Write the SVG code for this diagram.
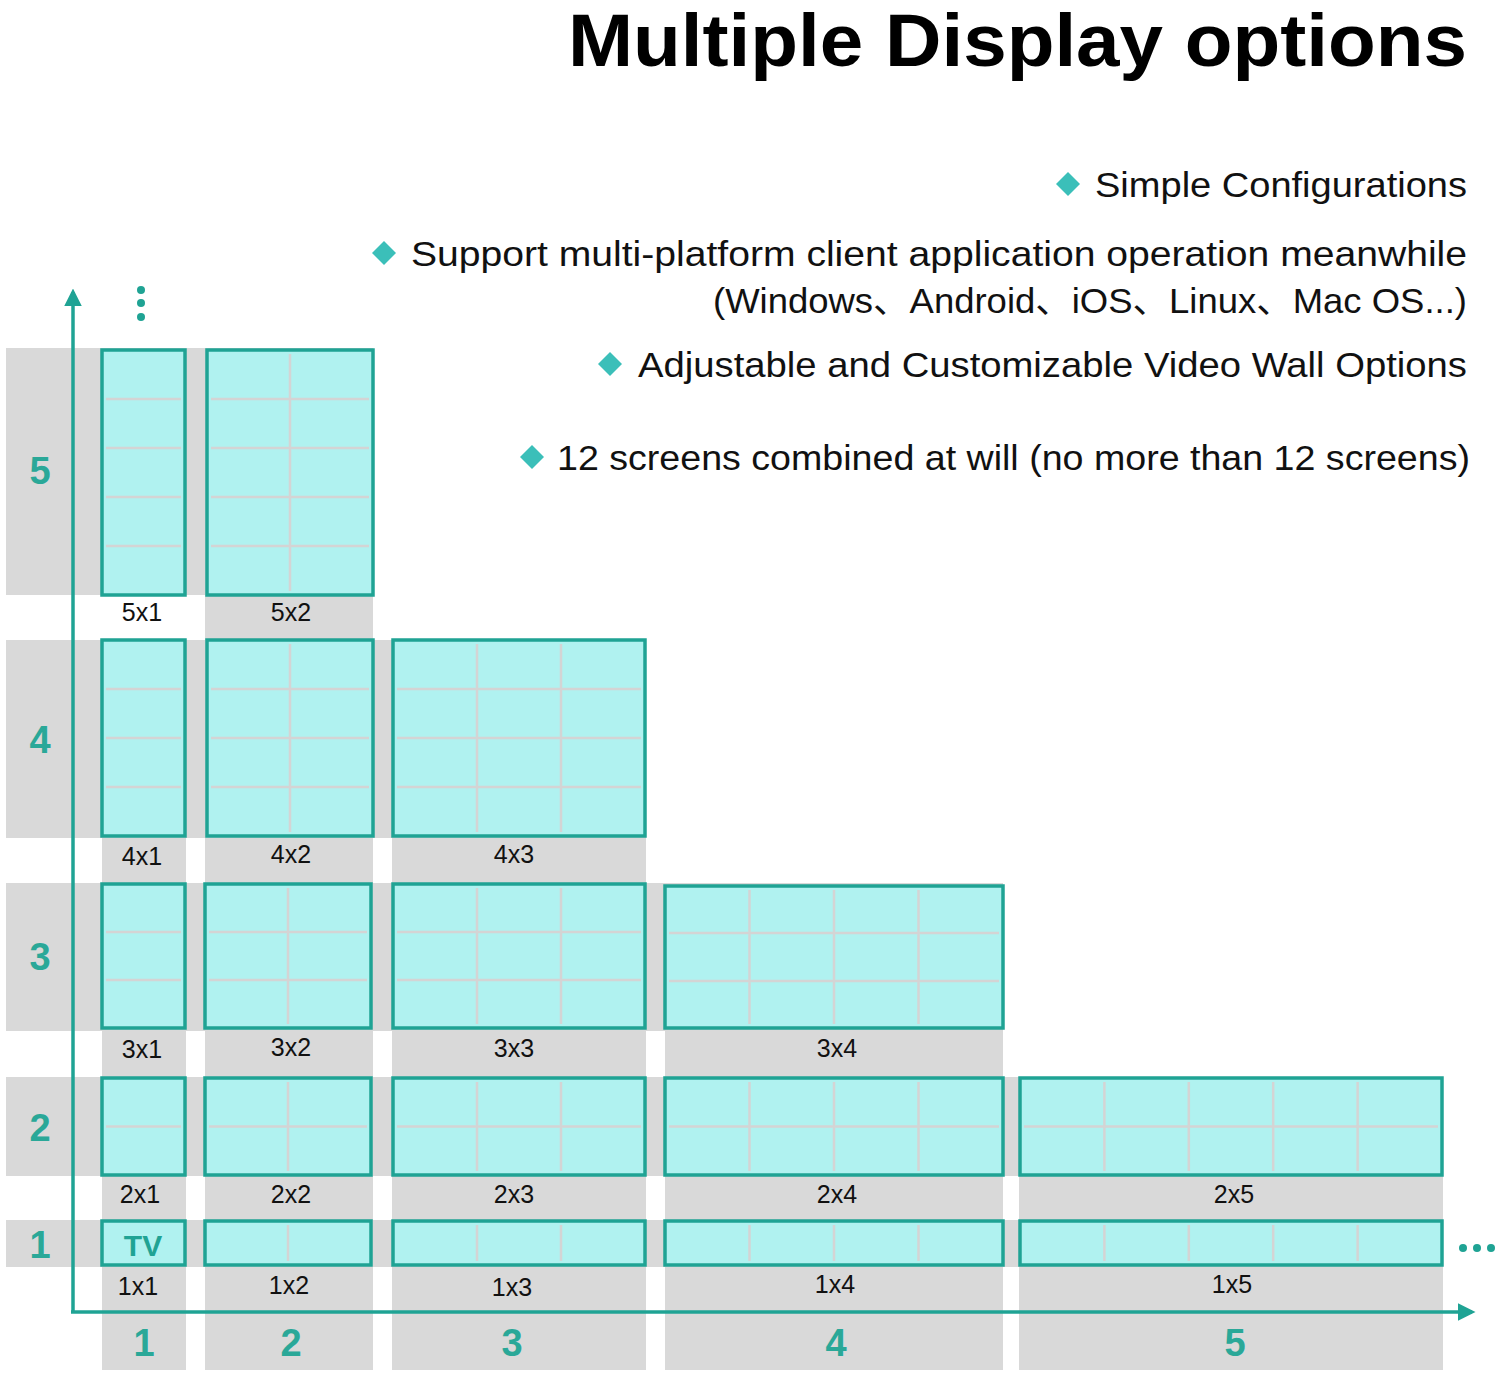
<svg xmlns="http://www.w3.org/2000/svg" width="1500" height="1374" viewBox="0 0 1500 1374">
<style>
.g{fill:#d9d9d9}
.b{fill:#b0f2f0;stroke:#1fa394;stroke-width:3.5}
.gl{stroke:#d4d4d4;stroke-width:2.5;fill:none}
.lb{font-family:"Liberation Sans",Arial,sans-serif;font-size:25px;fill:#111;text-anchor:middle}
.ax{font-family:"Liberation Sans",Arial,sans-serif;font-size:38px;font-weight:bold;fill:#2aa898;text-anchor:middle}
.tx{font-family:"Liberation Sans","Noto Sans CJK SC",sans-serif;font-size:35px;fill:#111;text-anchor:end}
.d{fill:#3bbfb9}
</style>
<defs>
<marker id="ah" viewBox="0 0 10 10" refX="8" refY="5" markerWidth="5" markerHeight="5" orient="auto"><path d="M0,0L10,5L0,10z" fill="#1fa394"/></marker>
</defs>
<rect width="1500" height="1374" fill="#fff"/>
<text x="1467" y="66" font-family="Liberation Sans,Arial,sans-serif" font-size="74" font-weight="bold" fill="#000" text-anchor="end" textLength="899" lengthAdjust="spacingAndGlyphs">Multiple Display options</text>
<g id="bullets">
<path class="d" d="M1068,172l12,12l-12,12l-12,-12z"/>
<text class="tx" x="1467" y="197" textLength="372" lengthAdjust="spacingAndGlyphs">Simple Configurations</text>
<path class="d" d="M384,241l12,12l-12,12l-12,-12z"/>
<text class="tx" x="1467" y="266" textLength="1056" lengthAdjust="spacingAndGlyphs">Support multi-platform client application operation meanwhile</text>
<text class="tx" x="1467" y="313" textLength="754" lengthAdjust="spacingAndGlyphs">(Windows、Android、iOS、Linux、Mac OS...)</text>
<path class="d" d="M610,352l12,12l-12,12l-12,-12z"/>
<text class="tx" x="1467" y="377" textLength="829" lengthAdjust="spacingAndGlyphs">Adjustable and Customizable Video Wall Options</text>
<path class="d" d="M532,445l12,12l-12,12l-12,-12z"/>
<text class="tx" x="1470" y="470" textLength="913" lengthAdjust="spacingAndGlyphs">12 screens combined at will (no more than 12 screens)</text>
</g>
<g id="background">
<rect class="g" x="6" y="348" width="199" height="247"/>
<rect class="g" x="6" y="640" width="640" height="198"/>
<rect class="g" x="6" y="883" width="997" height="148"/>
<rect class="g" x="6" y="1077" width="1437" height="99"/>
<rect class="g" x="6" y="1220" width="1437" height="47"/>
<rect class="g" x="102" y="640" width="84" height="730"/>
<rect class="g" x="205" y="348" width="168" height="1022"/>
<rect class="g" x="392" y="640" width="254" height="730"/>
<rect class="g" x="665" y="883" width="338" height="487"/>
<rect class="g" x="1019" y="1077" width="424" height="293"/>
</g>
<g id="connectors">
<line x1="73" y1="1313" x2="73" y2="292" stroke="#1fa394" stroke-width="3.5" marker-end="url(#ah)"/>
<line x1="71" y1="1312" x2="1472" y2="1312" stroke="#1fa394" stroke-width="3.5" marker-end="url(#ah)"/>
<g fill="#1fa394"><circle cx="141" cy="290" r="4"/><circle cx="141" cy="303" r="4"/><circle cx="141" cy="317" r="4"/>
<circle cx="1463" cy="1248" r="4"/><circle cx="1477" cy="1248" r="4"/><circle cx="1491" cy="1248" r="4"/></g>
</g>
<g id="axis-labels">
<text class="ax" x="40" y="484">5</text>
<text class="ax" x="40" y="753">4</text>
<text class="ax" x="40" y="970">3</text>
<text class="ax" x="40" y="1141">2</text>
<text class="ax" x="40" y="1258">1</text>
<text class="ax" x="144" y="1356">1</text>
<text class="ax" x="291" y="1356">2</text>
<text class="ax" x="512" y="1356">3</text>
<text class="ax" x="836" y="1356">4</text>
<text class="ax" x="1235" y="1356">5</text>
</g>
<g id="n5x1"><rect class="b" x="102" y="350" width="83" height="245"/><path class="gl" d="M106,399H181M106,448H181M106,497H181M106,546H181"/><text class="lb" x="142" y="621">5x1</text></g>
<g id="n5x2"><rect class="b" x="207" y="350" width="166" height="245"/><path class="gl" d="M211,399H369M211,448H369M211,497H369M211,546H369M290,354V591"/><text class="lb" x="291" y="621">5x2</text></g>
<g id="n4x1"><rect class="b" x="102" y="640" width="83" height="196"/><path class="gl" d="M106,689H181M106,738H181M106,787H181"/><text class="lb" x="142" y="865">4x1</text></g>
<g id="n4x2"><rect class="b" x="207" y="640" width="166" height="196"/><path class="gl" d="M211,689H369M211,738H369M211,787H369M290,644V832"/><text class="lb" x="291" y="863">4x2</text></g>
<g id="n4x3"><rect class="b" x="393" y="640" width="252" height="196"/><path class="gl" d="M397,689H641M397,738H641M397,787H641M477,644V832M561,644V832"/><text class="lb" x="514" y="863">4x3</text></g>
<g id="n3x1"><rect class="b" x="102" y="884" width="83" height="144"/><path class="gl" d="M106,932H181M106,980H181"/><text class="lb" x="142" y="1058">3x1</text></g>
<g id="n3x2"><rect class="b" x="205" y="884" width="166" height="144"/><path class="gl" d="M209,932H367M209,980H367M288,888V1024"/><text class="lb" x="291" y="1056">3x2</text></g>
<g id="n3x3"><rect class="b" x="393" y="884" width="252" height="144"/><path class="gl" d="M397,932H641M397,980H641M477,888V1024M561,888V1024"/><text class="lb" x="514" y="1057">3x3</text></g>
<g id="n3x4"><rect class="b" x="665" y="886" width="338" height="142"/><path class="gl" d="M669,933H999M669,981H999M749.5,890V1024M834,890V1024M918.5,890V1024"/><text class="lb" x="837" y="1057">3x4</text></g>
<g id="n2x1"><rect class="b" x="102" y="1078" width="83" height="97"/><path class="gl" d="M106,1126.5H181"/><text class="lb" x="140" y="1203">2x1</text></g>
<g id="n2x2"><rect class="b" x="205" y="1078" width="166" height="97"/><path class="gl" d="M209,1126.5H367M288,1082V1171"/><text class="lb" x="291" y="1203">2x2</text></g>
<g id="n2x3"><rect class="b" x="393" y="1078" width="252" height="97"/><path class="gl" d="M397,1126.5H641M477,1082V1171M561,1082V1171"/><text class="lb" x="514" y="1203">2x3</text></g>
<g id="n2x4"><rect class="b" x="665" y="1078" width="338" height="97"/><path class="gl" d="M669,1126.5H999M749.5,1082V1171M834,1082V1171M918.5,1082V1171"/><text class="lb" x="837" y="1203">2x4</text></g>
<g id="n2x5"><rect class="b" x="1020" y="1078" width="422" height="97"/><path class="gl" d="M1024,1126.5H1438M1104.4,1082V1171M1188.8,1082V1171M1273.2,1082V1171M1357.6,1082V1171"/><text class="lb" x="1234" y="1203">2x5</text></g>
<g id="n1x1"><rect class="b" x="102" y="1221" width="83" height="44"/><text x="143" y="1256" font-family="Liberation Sans,Arial,sans-serif" font-size="30" font-weight="bold" fill="#1fa394" text-anchor="middle">TV</text><text class="lb" x="138" y="1295">1x1</text></g>
<g id="n1x2"><rect class="b" x="205" y="1221" width="166" height="44"/><path class="gl" d="M288,1225V1261"/><text class="lb" x="289" y="1294">1x2</text></g>
<g id="n1x3"><rect class="b" x="393" y="1221" width="252" height="44"/><path class="gl" d="M477,1225V1261M561,1225V1261"/><text class="lb" x="512" y="1296">1x3</text></g>
<g id="n1x4"><rect class="b" x="665" y="1221" width="338" height="44"/><path class="gl" d="M749.5,1225V1261M834,1225V1261M918.5,1225V1261"/><text class="lb" x="835" y="1293">1x4</text></g>
<g id="n1x5"><rect class="b" x="1020" y="1221" width="422" height="44"/><path class="gl" d="M1104.4,1225V1261M1188.8,1225V1261M1273.2,1225V1261M1357.6,1225V1261"/><text class="lb" x="1232" y="1293">1x5</text></g>
</svg>
